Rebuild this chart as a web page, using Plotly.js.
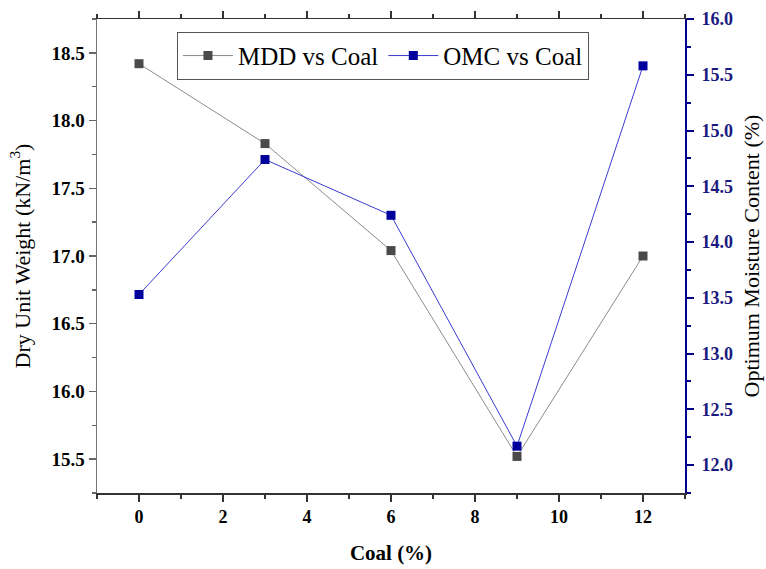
<!DOCTYPE html>
<html><head><meta charset="utf-8">
<script src="https://cdn.plot.ly/plotly-3.0.1.min.js"></script>
<style>body{margin:0;padding:0;background:#fff}#c{width:766px;height:569px}</style>
</head><body><div id="c"></div>
<script>
const coal = [0, 3, 6, 9, 12];
const mdd = [18.42, 17.83, 17.04, 15.52, 17.0];
const omc = [13.53, 14.74, 14.24, 12.17, 15.58];
const xTicks = [0, 2, 4, 6, 8, 10, 12];

const F = 'Liberation Serif';
const traces = [
  {x: coal, y: mdd, name: 'MDD vs Coal', type: 'scatter', mode: 'lines+markers',
   line: {color: '#8c8c8c', width: 1}, marker: {symbol: 'square', size: 9, color: '#4a4a4a'}, yaxis: 'y'},
  {x: coal, y: omc, name: 'OMC vs Coal', type: 'scatter', mode: 'lines+markers',
   line: {color: '#3a3ad0', width: 1}, marker: {symbol: 'square', size: 9, color: '#00009c'}, yaxis: 'y2'}
];
const layout = {
  width: 766, height: 569,
  margin: {l: 97, r: 81, t: 19, b: 76},
  paper_bgcolor: '#fff', plot_bgcolor: '#fff',
  font: {family: F, color: '#000'},
  showlegend: true,
  legend: {orientation: 'h', x: 0.136, y: 0.973, xanchor: 'left', yanchor: 'top',
    bordercolor: '#555', borderwidth: 1, bgcolor: '#fff', itemwidth: 50,
    font: {family: F, size: 25, color: '#000'}, tracegroupgap: 0},
  xaxis: {range: [-1, 13], tickvals: xTicks, ticks: 'outside', ticklen: 7, tickwidth: 1.5,
    tickcolor: '#333', showline: true, linecolor: '#333', linewidth: 1.5, mirror: 'ticks',
    showgrid: false, zeroline: false,
    minor: {dtick: 1, ticks: 'outside', ticklen: 4, tickwidth: 1.5, tickcolor: '#333'},
    tickfont: {family: F, size: 18, color: '#000', weight: 'bold'},
    title: {text: '<b>Coal (%)</b>', font: {family: F, size: 21, color: '#000'}, standoff: 19}},
  yaxis: {range: [15.25, 18.75], dtick: 0.5, tickformat: '.1f', ticks: 'outside', ticklen: 7, tickwidth: 1.5,
    tickcolor: '#666', showline: true, linecolor: '#777', linewidth: 1.5,
    showgrid: false, zeroline: false,
    minor: {dtick: 0.25, ticks: 'outside', ticklen: 4, tickwidth: 1.5, tickcolor: '#666'},
    tickfont: {family: F, size: 19, color: '#000', weight: 'bold'},
    title: {text: 'Dry Unit Weight (kN/m<sup>3</sup>)', font: {family: F, size: 22, color: '#000'}, standoff: 15}},
  yaxis2: {overlaying: 'y', side: 'right', range: [11.75, 16], dtick: 0.5, tickformat: '.1f',
    ticks: 'outside', ticklen: 7, tickwidth: 2, tickcolor: '#00008b', ticklabelstandoff: 4,
    showline: true, linecolor: '#00008b', linewidth: 2, showgrid: false, zeroline: false,
    minor: {dtick: 0.25, ticks: 'outside', ticklen: 4, tickwidth: 2, tickcolor: '#00008b'},
    tickfont: {family: F, size: 18, color: '#1a1a80', weight: 'bold'},
    title: {text: 'Optimum Moisture Content (%)', font: {family: F, size: 22, color: '#000'}, standoff: 12}}
};
Plotly.newPlot('c', traces, layout, {displayModeBar: false, staticPlot: true});
</script></body></html>
